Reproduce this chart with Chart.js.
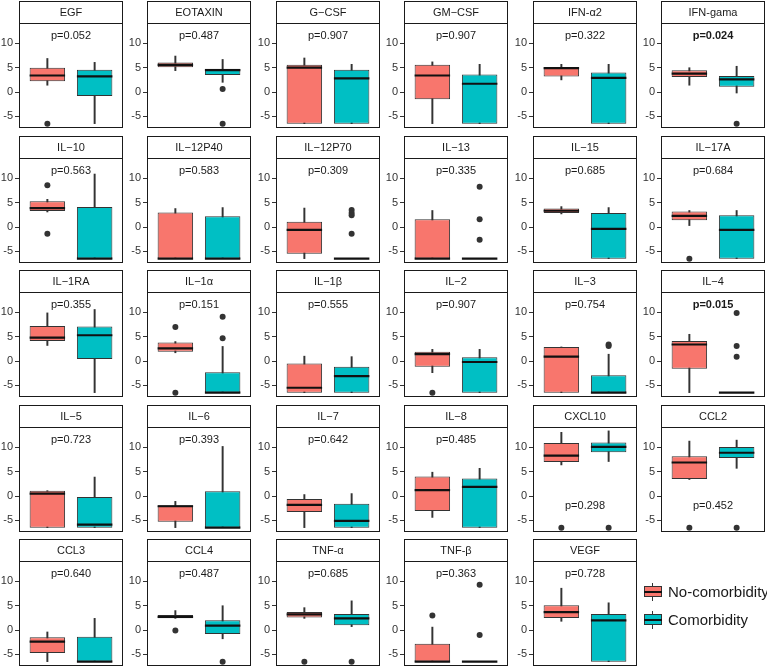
<!DOCTYPE html>
<html>
<head>
<meta charset="utf-8">
<script src="https://cdn.jsdelivr.net/npm/chart.js@4.4.1/dist/chart.umd.min.js"></script>
<style>
  body { margin: 0; background: #fff; font-family: "Liberation Sans", Arial, sans-serif; }
  #wrap { position: relative; width: 767px; height: 667px; overflow: hidden; }
  .strip {
    position: absolute; box-sizing: border-box; border: 1px solid #1a1a1a; background: #fff;
    font-size: 11px; line-height: 21px; color: #1a1a1a; text-align: center; white-space: nowrap;
    will-change: transform;
  }
  canvas.panel { position: absolute; }
  .key { position: absolute; left: 644px; width: 18px; height: 18px; }
  .key .wh { position: absolute; left: 8px; top: 0; width: 1px; height: 18px; background: #333; }
  .key .bx { position: absolute; left: 0; top: 3px; width: 18px; height: 11px; box-sizing: border-box; border: 1px solid #333; }
  .key .md { position: absolute; left: 0; top: 7.5px; width: 18px; height: 2px; background: #111; }
  .keytext { position: absolute; left: 668px; font-size: 15px; color: #1a1a1a; line-height: 18px; white-space: nowrap; }
</style>
</head>
<body>
<div id="wrap"></div>
<script>
// cytokine panels, in facet order
var cytokines = ['EGF', 'EOTAXIN', 'G\u2212CSF', 'GM\u2212CSF', 'IFN-\u03b12', 'IFN-gama',
  'IL\u221210', 'IL\u221212P40', 'IL\u221212P70', 'IL\u221213', 'IL\u221215', 'IL\u221217A',
  'IL\u22121RA', 'IL\u22121\u03b1', 'IL\u22121\u03b2', 'IL\u22122', 'IL\u22123', 'IL\u22124',
  'IL\u22125', 'IL\u22126', 'IL\u22127', 'IL\u22128', 'CXCL10', 'CCL2',
  'CCL3', 'CCL4', 'TNF-\u03b1', 'TNF-\u03b2', 'VEGF'];
var groups = ['No-comorbidity', 'Comorbidity'];
var groupColors = ['#F8766D', '#00BFC4'];

var pValues = [0.052, 0.487, 0.907, 0.907, 0.322, 0.024,
  0.563, 0.583, 0.309, 0.335, 0.685, 0.684,
  0.355, 0.151, 0.555, 0.907, 0.754, 0.015,
  0.723, 0.393, 0.642, 0.485, 0.298, 0.452,
  0.640, 0.487, 0.685, 0.363, 0.728];
// height (data units) where the p label sits
var pLabelY = [11.6, 11.6, 11.6, 11.6, 11.6, 11.6,
  11.6, 11.6, 11.6, 11.6, 11.6, 11.6,
  11.6, 11.6, 11.6, 11.6, 11.6, 11.6,
  11.6, 11.6, 11.6, 11.6, -2.0, -2.0,
  11.6, 11.6, 11.6, 11.6, 11.6];

// [lower whisker, q1, median, q3, upper whisker]
var noComorbidity = [
  [1.4, 2.2, 3.4, 5.0, 6.9], [4.4, 5.1, 5.6, 6.1, 7.4], [-6.5, -6.5, 5.0, 5.6, 7.0],
  [-6.5, -1.5, 3.4, 5.6, 6.2], [2.5, 3.2, 4.9, 5.1, 5.7], [1.4, 3.1, 3.8, 4.5, 5.0],
  [3.1, 3.3, 3.9, 5.3, 5.7], [-6.5, -6.5, -6.5, 3.0, 3.8], [-6.5, -5.5, -0.6, 1.1, 3.9],
  [-6.5, -6.5, -6.5, 1.6, 3.4], [2.7, 2.9, 3.35, 3.8, 4.2], [0.3, 1.4, 2.3, 3.2, 3.4],
  [3.2, 4.1, 4.8, 7.2, 9.9], [1.7, 1.9, 2.6, 3.8, 4.0], [-6.5, -6.5, -5.5, -0.5, 1.0],
  [-2.4, -1.2, 1.4, 1.9, 2.4], [-6.5, -6.5, 0.9, 2.9, 2.9], [-6.5, -1.6, 3.4, 4.1, 5.5],
  [-6.5, -6.5, 0.5, 1.1, 1.1], [-6.5, -5.3, -2.1, -1.9, -1.1], [-6.5, -3.3, -1.8, -0.6, 0.3],
  [-4.4, -3.1, 1.2, 4.0, 4.9], [6.4, 7.0, 8.3, 10.9, 13.1], [3.4, 3.5, 6.9, 8.2, 11.3],
  [-6.5, -4.7, -2.4, -1.5, -0.4], [2.4, 2.4, 2.7, 3.1, 4.0], [2.4, 2.6, 3.2, 3.7, 4.6],
  [-6.5, -6.5, -6.5, -2.8, 0.6], [1.8, 2.5, 3.7, 5.1, 8.6]
];
var comorbidity = [
  [-6.5, -0.8, 3.2, 4.6, 6.1], [2.0, 3.5, 4.5, 4.8, 6.7], [-6.5, -6.5, 2.8, 4.6, 5.7],
  [-6.5, -6.5, 1.7, 3.6, 5.7], [-6.5, -6.5, 2.9, 4.0, 5.7], [-0.2, 1.1, 2.6, 3.3, 5.3],
  [-6.5, -6.5, -6.5, 4.1, 10.9], [-6.5, -6.5, -6.5, 2.2, 4.0], [-6.5, -6.5, -6.5, -6.5, -6.5],
  [-6.5, -6.5, -6.5, -6.5, -6.5], [-6.5, -6.5, -0.4, 2.9, 4.0], [-6.5, -6.5, -0.6, 2.4, 3.4],
  [-6.5, 0.4, 5.3, 7.1, 10.6], [-6.5, -6.5, -6.5, -2.3, 3.0], [-6.5, -6.5, -3.1, -1.2, 0.9],
  [-6.5, -6.5, -0.2, 0.8, 2.4], [-6.5, -6.5, -6.5, -2.9, 1.4], [-6.5, -6.5, -6.5, -6.5, -6.5],
  [-6.5, -6.5, -5.9, -0.2, 3.9], [-6.5, -6.5, -6.5, 1.0, 10.2], [-6.5, -6.5, -5.1, -1.6, 0.5],
  [-6.5, -6.5, 1.9, 3.6, 5.7], [7.1, 9.0, 10.1, 11.0, 13.4], [5.7, 7.8, 8.9, 10.1, 11.5],
  [-6.5, -6.5, -6.5, -1.4, 2.4], [-1.8, -0.8, 0.9, 2.0, 5.0], [0.7, 1.0, 2.4, 3.3, 6.0],
  [-6.5, -6.5, -6.5, -6.5, -6.5], [-6.5, -6.5, 2.0, 3.3, 5.6]
];
var noOutliers = [[-6.5], [], [], [], [], [],
  [8.6, -1.4], [], [], [], [], [-6.5],
  [], [7.0, -6.5], [], [-6.5], [], [],
  [], [], [], [], [-6.5], [-6.5],
  [], [-0.1], [-6.5], [3.0], []];
var comOutliers = [[], [0.6, -6.5], [], [], [], [-6.5],
  [], [], [3.5, 2.9, 2.4, -1.4], [8.3, 1.6, -2.6], [], [],
  [], [9.1, 4.7], [], [], [3.4, 3.1], [9.9, 3.1, 0.9],
  [], [], [], [], [-6.5], [-6.5],
  [], [-6.5], [-6.5], [9.3, -1.0], []];

var yTicks = [-5, 0, 5, 10];
var yMin = -7.4, yMax = 14.2;
var boxWidth = 0.75;

var panelBorder = {
  id: 'panelBorder',
  afterDraw: function (chart) {
    var a = chart.chartArea, ctx = chart.ctx;
    ctx.save();
    ctx.strokeStyle = '#1a1a1a';
    ctx.lineWidth = 1;
    ctx.strokeRect(Math.round(a.left) + 0.5, Math.round(a.top) + 0.5,
      Math.round(a.right - a.left) - 1, Math.round(a.bottom - a.top) - 1);
    ctx.restore();
  }
};

var pLabel = {
  id: 'pLabel',
  afterDatasetsDraw: function (chart, args, opts) {
    var ctx = chart.ctx;
    ctx.save();
    ctx.font = (opts.bold ? 'bold ' : '') + '11px "Liberation Sans", Arial, sans-serif';
    ctx.fillStyle = '#1a1a1a';
    ctx.textAlign = 'center';
    ctx.textBaseline = 'middle';
    ctx.fillText(opts.text, chart.scales.x.getPixelForValue(1.5), chart.scales.y.getPixelForValue(opts.y));
    ctx.restore();
  }
};

function makePanel(i) {
  var wrap = document.getElementById('wrap');
  var col = i % 6, row = Math.floor(i / 6);
  var left = Math.round(19 + col * 128.4);
  var top = Math.round(1 + row * 134.5);

  var strip = document.createElement('div');
  strip.className = 'strip';
  strip.style.left = left + 'px';
  strip.style.top = top + 'px';
  strip.style.width = '104px';
  strip.style.height = '23px';
  strip.textContent = cytokines[i];
  wrap.appendChild(strip);

  var canvas = document.createElement('canvas');
  canvas.className = 'panel';
  canvas.width = 125;
  canvas.height = 105;
  canvas.style.left = (left - 20) + 'px';
  canvas.style.top = (top + 22) + 'px';
  wrap.appendChild(canvas);

  var stats = [noComorbidity[i], comorbidity[i]];
  var outs = [];
  noOutliers[i].forEach(function (v) { outs.push({ x: 1, y: v }); });
  comOutliers[i].forEach(function (v) { outs.push({ x: 2, y: v }); });

  new Chart(canvas, {
    type: 'bar',
    data: {
      datasets: [
        {
          // median
          type: 'scatter',
          order: 0,
          data: stats.map(function (s, g) { return { x: g + 1, y: s[2] }; }),
          pointStyle: 'line',
          borderColor: '#111',
          borderWidth: 2.2,
          pointRadius: function (ctx) {
            var x = ctx.chart.scales.x;
            return x.getPixelForValue(1 + boxWidth / 2) - x.getPixelForValue(1);
          }
        },
        {
          // outliers
          type: 'scatter',
          order: 1,
          data: outs,
          pointStyle: 'circle',
          pointRadius: 3,
          backgroundColor: '#333',
          borderColor: '#333',
          borderWidth: 0
        },
        {
          // boxes
          order: 2,
          data: stats.map(function (s, g) { return { x: g + 1, y: [s[1], s[3]] }; }),
          backgroundColor: groupColors,
          borderColor: '#333',
          borderWidth: 1,
          borderSkipped: false,
          grouped: false,
          categoryPercentage: 1,
          barPercentage: boxWidth
        },
        {
          // whiskers
          order: 3,
          data: stats.map(function (s, g) { return { x: g + 1, y: [s[0], s[4]] }; }),
          backgroundColor: '#333',
          borderWidth: 0,
          grouped: false,
          barThickness: 1.3
        }
      ]
    },
    options: {
      responsive: false,
      animation: false,
      events: [],
      layout: { autoPadding: false, padding: { left: 0, right: 1, top: 0, bottom: 0 } },
      scales: {
        x: {
          type: 'linear',
          min: 0.4,
          max: 2.6,
          offset: false,
          display: false,
          ticks: { stepSize: 1, includeBounds: false },
          afterBuildTicks: function (s) { s.ticks = [{ value: 1 }, { value: 2 }]; }
        },
        y: {
          type: 'linear',
          min: yMin,
          max: yMax,
          afterBuildTicks: function (s) { s.ticks = yTicks.map(function (v) { return { value: v }; }); },
          afterFit: function (s) { s.width = 20; s.paddingTop = 0; s.paddingBottom = 0; },
          border: { display: false },
          grid: { drawOnChartArea: false, drawTicks: true, tickLength: 4, color: '#333', tickColor: '#333' },
          ticks: {
            padding: 2,
            color: '#333',
            font: { family: '"Liberation Sans", Arial, sans-serif', size: 11 }
          }
        }
      },
      plugins: {
        legend: { display: false },
        tooltip: { enabled: false },
        pLabel: { text: 'p=' + pValues[i].toFixed(3), y: pLabelY[i], bold: pValues[i] < 0.05 }
      }
    },
    plugins: [panelBorder, pLabel]
  });
}

function makeLegend() {
  var wrap = document.getElementById('wrap');
  var tops = [583, 611];
  groups.forEach(function (name, g) {
    var key = document.createElement('div');
    key.className = 'key';
    key.style.top = tops[g] + 'px';
    key.innerHTML = '<div class="wh"></div><div class="bx" style="background:' + groupColors[g] +
      '"></div><div class="md"></div>';
    wrap.appendChild(key);
    var label = document.createElement('div');
    label.className = 'keytext';
    label.style.top = tops[g] + 'px';
    label.textContent = name;
    wrap.appendChild(label);
  });
}

document.addEventListener('DOMContentLoaded', function () {
  for (var i = 0; i < cytokines.length; i++) makePanel(i);
  makeLegend();
});
</script>
</body>
</html>
